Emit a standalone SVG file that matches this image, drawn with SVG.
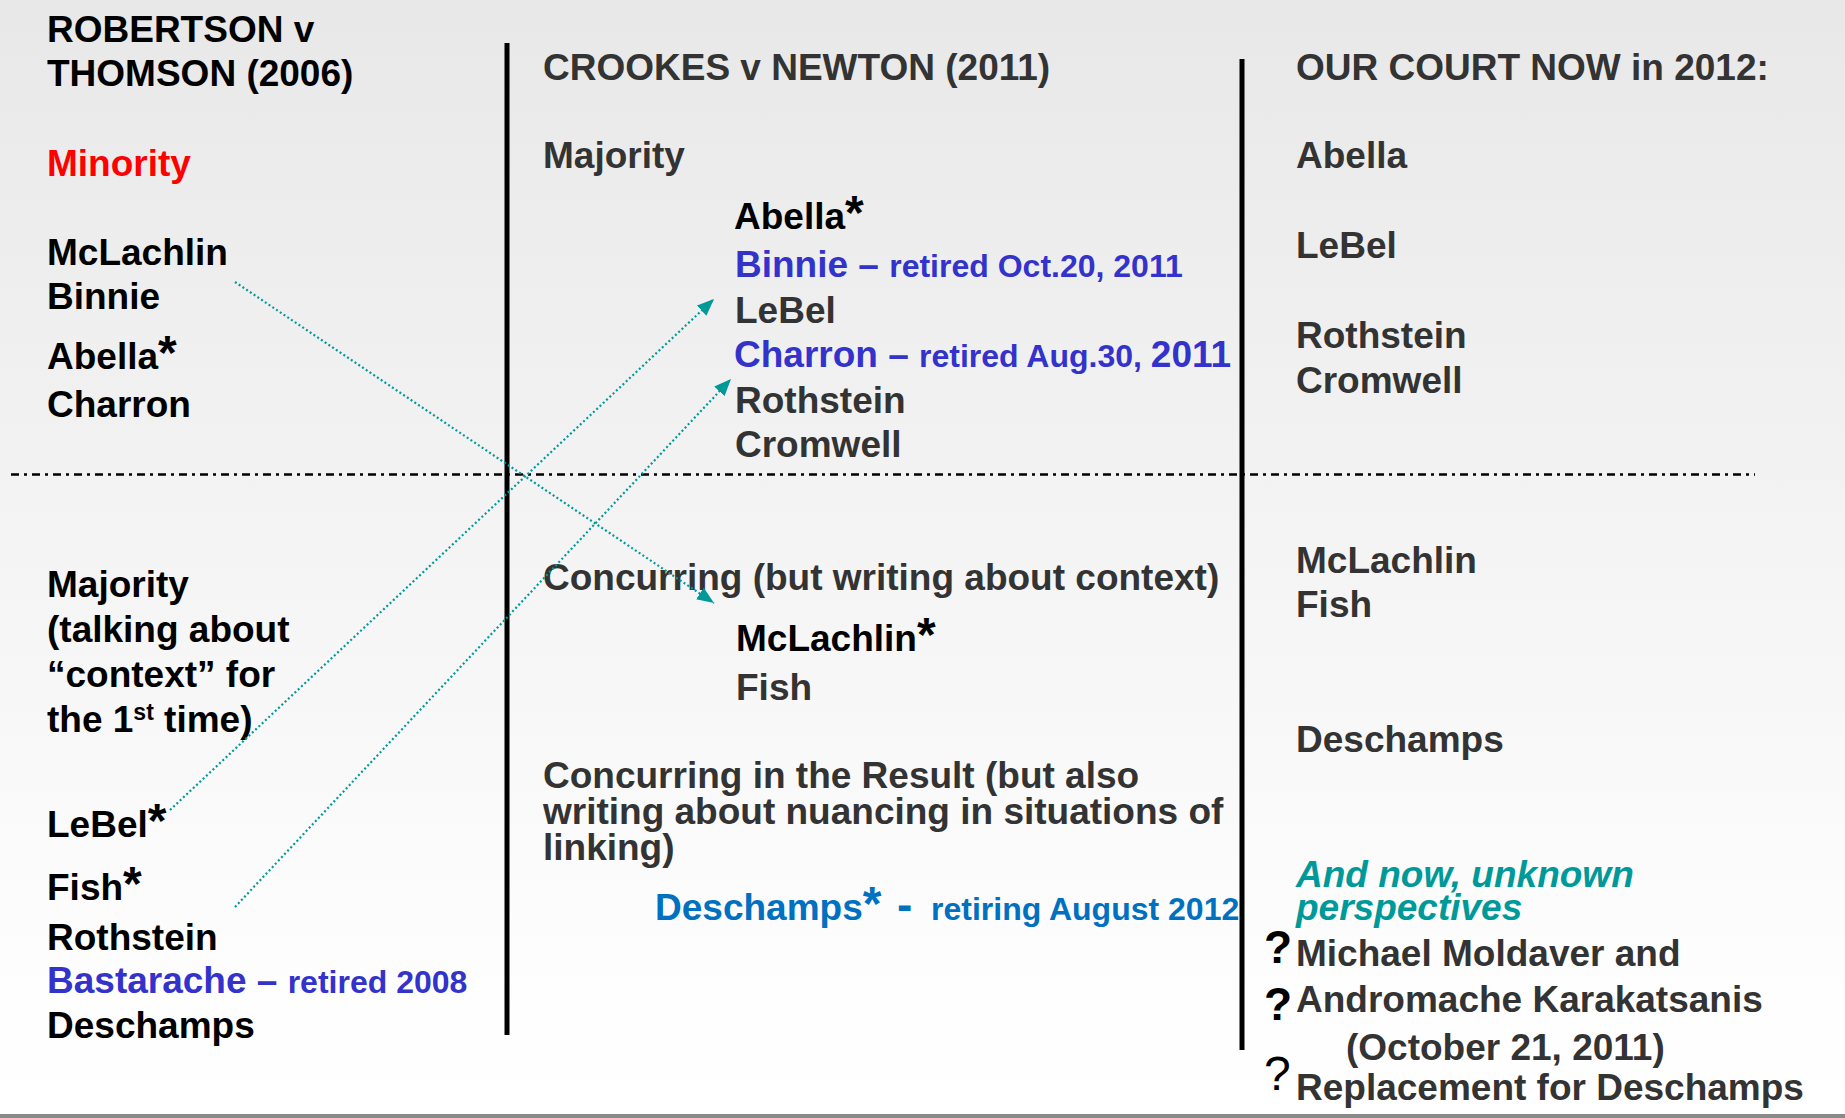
<svg xmlns="http://www.w3.org/2000/svg" width="1845" height="1118" viewBox="0 0 1845 1118">
<defs>
<linearGradient id="bg" x1="0" y1="0" x2="0" y2="1">
<stop offset="0" stop-color="#e8e8e8"/>
<stop offset="0.85" stop-color="#fdfdfd"/>
<stop offset="1" stop-color="#ffffff"/>
</linearGradient>
<marker id="arr" markerUnits="userSpaceOnUse" markerWidth="18" markerHeight="16" refX="17" refY="7" orient="auto">
<path d="M0,0 L17,7 L0,14 z" fill="#009999"/>
</marker>
<style>
text{font-family:"Liberation Sans",Arial,sans-serif;font-weight:bold;font-size:37px}
.k{fill:#000}
.g{fill:#333333}
.red{fill:#ff0000}
.blu{fill:#3333cc}
.db{fill:#0070c0}
.teal{fill:#009999;font-style:italic}
.sm{font-size:32px}
.ast{font-size:48px}
text.q{font-size:46px}
text.qn{font-size:48px;font-weight:normal}
.sep{stroke:#000;stroke-width:5}
.dd{stroke:#000;stroke-width:2.5;stroke-dasharray:8 5 3 5;fill:none}
.con{stroke:#009999;stroke-width:2.2;stroke-dasharray:2 2.5;fill:none;marker-end:url(#arr)}
</style>
</defs>
<rect x="0" y="0" width="1845" height="1118" fill="url(#bg)"/>
<rect x="0" y="1114" width="1845" height="4" fill="#8a8a8a"/>
<g id="dividers">
<line class="sep" x1="507" y1="43" x2="507" y2="1035"/>
<line class="sep" x1="1242" y1="59" x2="1242" y2="1050"/>
<line class="dd" x1="11" y1="474.5" x2="1755" y2="474.5"/>
</g>
<g id="robertson">
<text class="k" x="47" y="42">ROBERTSON v</text>
<text class="k" x="47" y="86">THOMSON (2006)</text>
</g>
<g id="robertson-minority">
<text class="red" x="47" y="176">Minority</text>
<text class="k" x="47" y="265">McLachlin</text>
<text class="k" x="47" y="309">Binnie</text>
<text class="k" x="47" y="369">Abella<tspan class="ast">*</tspan></text>
<text class="k" x="47" y="417">Charron</text>
</g>
<g id="robertson-majority">
<text class="k" x="47" y="597">Majority</text>
<text class="k" x="47" y="642">(talking about</text>
<text class="k" x="47" y="687">“context” for</text>
<text class="k" x="47" y="732">the 1<tspan font-size="23" dy="-12">st</tspan><tspan dy="12"> time)</tspan></text>
<text class="k" x="47" y="837">LeBel<tspan class="ast">*</tspan></text>
<text class="k" x="47" y="900">Fish<tspan class="ast">*</tspan></text>
<text class="k" x="47" y="950">Rothstein</text>
<text class="blu" x="47" y="993">Bastarache – <tspan class="sm">retired 2008</tspan></text>
<text class="k" x="47" y="1038">Deschamps</text>
</g>
<g id="crookes">
<text class="g" x="543" y="80">CROOKES v NEWTON (2011)</text>
</g>
<g id="crookes-majority">
<text class="g" x="543" y="168">Majority</text>
<text class="k" x="734" y="229">Abella<tspan class="ast">*</tspan></text>
<text class="blu" x="735" y="277">Binnie – <tspan class="sm">retired Oct.20, 2011</tspan></text>
<text class="g" x="735" y="323">LeBel</text>
<text class="blu" x="734" y="367">Charron – <tspan class="sm">retired Aug.30, </tspan><tspan font-size="37">2011</tspan></text>
<text class="g" x="735" y="413">Rothstein</text>
<text class="g" x="735" y="457">Cromwell</text>
</g>
<g id="crookes-concurring">
<text class="g" x="543" y="590">Concurring (but writing about context)</text>
<text class="k" x="736" y="651">McLachlin<tspan class="ast">*</tspan></text>
<text class="g" x="736" y="700">Fish</text>
</g>
<g id="crookes-result">
<text class="g" x="543" y="788">Concurring in the Result (but also</text>
<text class="g" x="543" y="824">writing about nuancing in situations of</text>
<text class="g" x="543" y="860">linking)</text>
<text class="db" x="655" y="920">Deschamps<tspan class="ast">*</tspan><tspan x="897" font-size="46">-</tspan><tspan x="931" class="sm">retiring August 2012</tspan></text>
</g>
<g id="court-2012">
<text class="g" x="1296" y="80">OUR COURT NOW in 2012:</text>
<text class="g" x="1296" y="168">Abella</text>
<text class="g" x="1296" y="258">LeBel</text>
<text class="g" x="1296" y="348">Rothstein</text>
<text class="g" x="1296" y="393">Cromwell</text>
<text class="g" x="1296" y="573">McLachlin</text>
<text class="g" x="1296" y="617">Fish</text>
<text class="g" x="1296" y="752">Deschamps</text>
</g>
<g id="unknown">
<text class="teal" x="1296" y="887">And now, unknown</text>
<text class="teal" x="1296" y="920">perspectives</text>
<text class="k q" x="1264" y="963">?</text>
<text class="g" x="1296" y="966">Michael Moldaver and</text>
<text class="k q" x="1264" y="1020">?</text>
<text class="g" x="1296" y="1012">Andromache Karakatsanis</text>
<text class="g" x="1346" y="1060">(October 21, 2011)</text>
<text class="k qn" x="1264" y="1090">?</text>
<text class="g" x="1296" y="1100">Replacement for Deschamps</text>
</g>
<g id="connectors">
<line class="con" x1="235" y1="282" x2="714" y2="603"/>
<line class="con" x1="170" y1="810" x2="714" y2="299"/>
<line class="con" x1="235" y1="907" x2="731" y2="379"/>
</g>
</svg>
